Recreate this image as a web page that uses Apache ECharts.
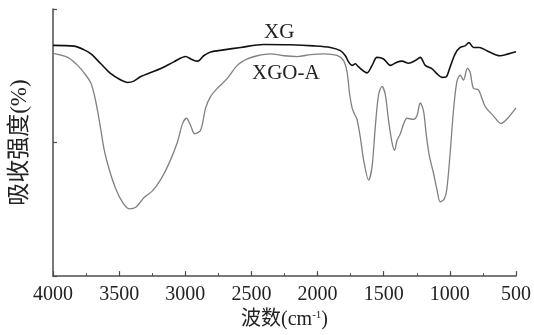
<!DOCTYPE html>
<html>
<head>
<meta charset="utf-8">
<script src="https://cdn.jsdelivr.net/npm/echarts@6/dist/echarts.min.js"></script>
<style>
  html, body { margin: 0; padding: 0; background: #fff; }
  #main { width: 534px; height: 335px; }
</style>
</head>
<body>
<div id="main"></div>
<script>
// XG 曲线 (波数 cm-1, 吸收强度 %)
const xgWn  = [4000, 3842, 3764, 3713, 3638, 3563, 3487, 3437, 3389, 3336, 3261, 3185, 3087, 2997, 2959, 2929, 2906, 2861, 2808, 2710, 2582, 2408, 2205, 2031, 1903, 1828, 1790, 1765, 1739, 1714, 1692, 1626, 1588, 1551, 1501, 1450, 1400, 1362, 1312, 1262, 1224, 1186, 1136, 1098, 1060, 1028, 998, 960, 922, 885, 855, 822, 777, 721, 621, 558, 500];
const xgVal = [86.4, 86.1, 84.7, 83.2, 79.5, 75.8, 73.4, 72.5, 73.0, 74.7, 76.2, 77.7, 80.2, 82.2, 81.3, 80.6, 80.5, 82.5, 83.9, 84.7, 85.6, 86.7, 86.6, 86.2, 85.6, 84.4, 82.5, 80.1, 78.9, 79.5, 78.4, 76.1, 78.9, 81.9, 81.3, 78.9, 80.1, 80.5, 79.7, 80.7, 81.9, 78.9, 77.7, 75.8, 74.4, 74.6, 78.3, 83.2, 85.6, 86.2, 87.4, 85.6, 85.6, 84.4, 82.5, 83.2, 84.0];

// XGO-A 曲线
const xgoWn  = [4000, 3889, 3814, 3751, 3713, 3688, 3663, 3638, 3613, 3575, 3525, 3474, 3424, 3374, 3311, 3248, 3185, 3123, 3059, 3022, 2991, 2959, 2929, 2884, 2846, 2808, 2758, 2682, 2607, 2531, 2456, 2356, 2255, 2154, 2054, 1953, 1853, 1803, 1777, 1757, 1739, 1722, 1702, 1677, 1652, 1614, 1588, 1564, 1539, 1513, 1488, 1463, 1438, 1418, 1400, 1375, 1350, 1324, 1275, 1249, 1224, 1199, 1179, 1156, 1124, 1098, 1073, 1043, 1023, 998, 973, 947, 922, 897, 867, 847, 822, 784, 734, 671, 613, 570, 500];
const xgoVal = [83.4, 81.9, 78.9, 75.2, 72.2, 67.9, 61.9, 54.6, 47.3, 39.9, 32.6, 27.6, 25.2, 25.8, 29.4, 31.9, 36.2, 42.2, 50.2, 56.9, 59.1, 56.3, 53.3, 54.6, 63.0, 67.3, 70.3, 74.0, 78.9, 81.3, 82.5, 83.2, 82.5, 82.2, 82.9, 83.2, 82.6, 80.7, 76.4, 67.9, 63.0, 60.8, 58.7, 52.0, 43.5, 35.9, 41.0, 55.7, 67.9, 71.0, 67.9, 58.1, 50.2, 47.1, 50.8, 53.2, 56.9, 59.1, 58.7, 60.0, 64.8, 61.8, 53.2, 45.3, 38.6, 32.5, 27.8, 28.8, 32.5, 45.9, 61.8, 72.8, 75.2, 73.4, 77.9, 76.4, 70.3, 69.7, 63.6, 60.0, 57.1, 58.7, 63.0];

const xTicks = [500, 4000, 500]; // min, max, interval
const yTicks = [0, 100, 50];

const pairs = (xs, ys) => xs.map((x, i) => [x, ys[i]]);

const serif = '"Liberation Serif", "Noto Sans CJK SC", serif';
const axisColor = '#4d4d4d';

const chart = echarts.init(document.getElementById('main'));
chart.setOption({
  animation: false,
  grid: { left: 52, right: 18, top: 9, bottom: 53 },
  xAxis: {
    type: 'value',
    inverse: true,
    min: xTicks[0], max: xTicks[1], interval: xTicks[2],
    name: '{t|波数(cm}{s|-1}{t|)}',
    nameLocation: 'middle',
    nameGap: 31,
    nameTextStyle: {
      rich: {
        t: { fontFamily: serif, fontSize: 20, color: '#222' },
        s: { fontFamily: serif, fontSize: 11, color: '#222', padding: [0, 0, 9, 0] }
      }
    },
    axisLine: { lineStyle: { color: axisColor, width: 1.5 } },
    axisTick: { inside: true, length: 5, lineStyle: { color: axisColor, width: 1.2 } },
    minorTick: { show: true, splitNumber: 2, length: 3, lineStyle: { color: axisColor } },
    axisLabel: {
      fontFamily: serif, fontSize: 20, color: '#222', margin: 9,
      formatter: v => String(v)
    },
    splitLine: { show: false }
  },
  yAxis: {
    type: 'value',
    min: yTicks[0], max: yTicks[1], interval: yTicks[2],
    name: '吸收强度(%)',
    nameLocation: 'middle',
    nameRotate: 90,
    nameGap: 22,
    nameTextStyle: { fontFamily: serif, fontSize: 23, color: '#222' },
    axisLine: { show: true, lineStyle: { color: axisColor, width: 1.5 } },
    axisTick: { show: true, inside: true, length: 4, lineStyle: { color: axisColor, width: 1.2 } },
    axisLabel: { show: false },
    splitLine: { show: false }
  },
  series: [
    {
      name: 'XG',
      type: 'line',
      data: pairs(xgWn, xgVal),
      showSymbol: false,
      smooth: 0.3,
      lineStyle: { color: '#111', width: 1.6 }
    },
    {
      name: 'XGO-A',
      type: 'line',
      data: pairs(xgoWn, xgoVal),
      showSymbol: false,
      smooth: 0.3,
      lineStyle: { color: '#808080', width: 1.3 }
    }
  ],
  graphic: [
    { type: 'text', left: 264, top: 22, style: { text: 'XG', font: '21px ' + serif, fill: '#222' } },
    { type: 'text', left: 252, top: 63, style: { text: 'XGO-A', font: '21px ' + serif, fill: '#222' } }
  ]
});
</script>
</body>
</html>
